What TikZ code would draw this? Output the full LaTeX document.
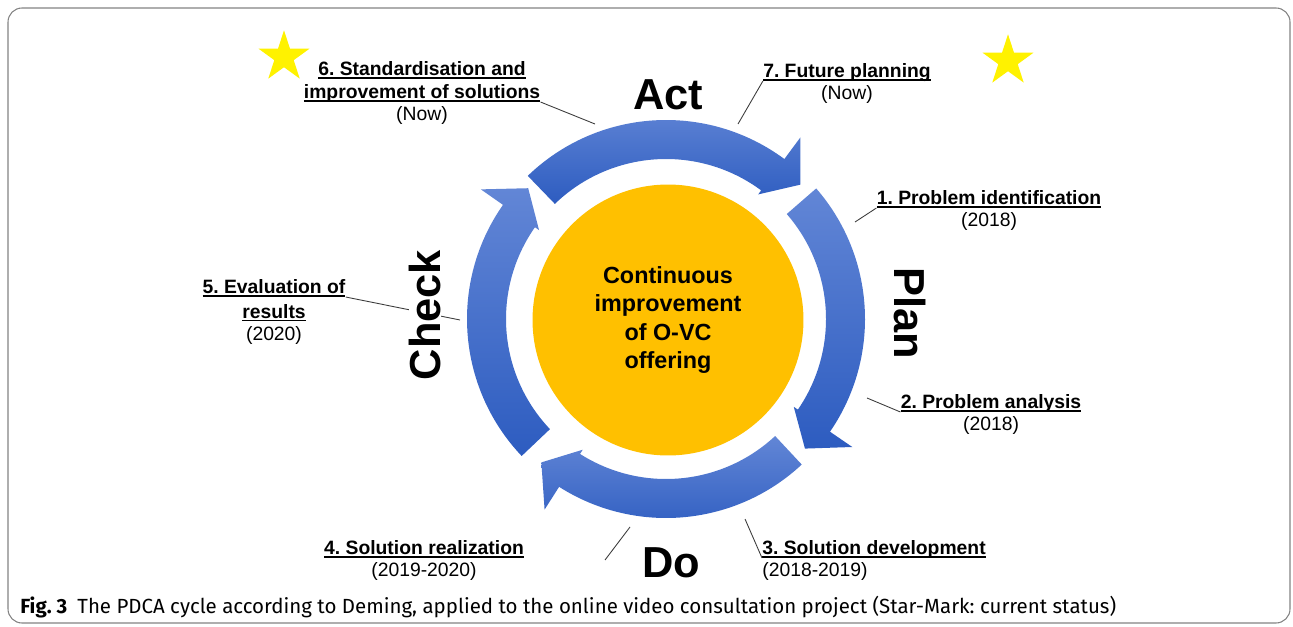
\documentclass[tikz,border=0pt]{standalone}
\usepackage{fontspec}
\setmainfont{Liberation Sans}
\newfontfamily\capfont{Fira Sans}
\usetikzlibrary{calc,positioning,shapes.geometric}
\definecolor{ringlight}{RGB}{98,134,214}
\definecolor{ringdark}{RGB}{45,92,192}
\definecolor{hubgold}{RGB}{255,192,0}
\definecolor{leadgray}{RGB}{60,60,60}
\definecolor{framegray}{RGB}{130,130,130}
\definecolor{staryellow}{RGB}{255,242,0}
\def\ulab#1{\setbox0\hbox{#1}\dp0=0pt\rlap{\rule[-1.7pt]{\wd0}{0.9pt}}\box0}
\def\cyclearrow(#1:#2:#3){\shade[top color=ringlight, bottom color=ringdark] (#1:199) arc[start angle=#1, end angle=#2, radius=199] -- (#2:226) -- (#3:190) -- (#2:155) -- (#2:160) arc[start angle=#2, end angle=#1, radius=160] -- cycle;}
\frenchspacing

\begin{document}
\begin{tikzpicture}[x=0.02cm, y=0.02cm,
		steptitle/.style={font=\fontsize{11}{13}\selectfont\bfseries, align=center, inner sep=0pt},
		stepyear/.style={font=\fontsize{11}{13}\selectfont, align=center, inner sep=0pt},
		phase/.style={font=\fontsize{24.7}{28}\selectfont\bfseries, inner sep=0pt},
		leader/.style={draw=leadgray, line width=0.5pt},
		goldstar/.style={star, star points=5, star point ratio=2.618, fill=staryellow, inner sep=0pt, minimum size=1.07cm}]
			%%%%% START %%%%%
			\useasboundingbox (0,0) rectangle (1293,626);
			\draw[framegray, line width=0.6pt, rounded corners=8pt] (8,3) rectangle (1290,618);
			
			% ring of arrows
			\begin{scope}[shift={(666,307)}]
				\cyclearrow(134:53.5:45)
				\cyclearrow(41:-34.5:-43)
				\cyclearrow(-47:-122.5:-131)
				\cyclearrow(-136.5:-215:-223.5)
			\end{scope}
			
			\node[circle, fill=hubgold, minimum size=5.42cm, inner sep=0pt, align=center,
				font=\fontsize{13.3}{16}\selectfont\bfseries] (hub) at (668,306) {Continuous\\improvement\\of O-VC\\offering};
			
			\node[phase] (act) at (668,531) {Act};
			\node[phase] (do) at (671,63) {Do};
			\node[phase, rotate=-90] (plan) at (910,313) {Plan};
			
			\node[goldstar] (s6) at (284,569) {};
			\node[goldstar] (s7) at (1008,565) {};
			
			% steps
			\node[steptitle, anchor=south] (t6) at (422,524) {\ulab{6. Standardisation and}\\\ulab{improvement of solutions}};
			\node[stepyear, below=2.3pt of t6] (y6) {(Now)};
			\node[steptitle, anchor=south] (t7) at (847,545) {\ulab{7. Future planning}};
			\node[stepyear, below=2.3pt of t7] (y7) {(Now)};
			\node[steptitle, anchor=south] (t1) at (989,418) {\ulab{1. Problem identification}};
			\node[stepyear, below=2.3pt of t1] (y1) {(2018)};
			\node[steptitle, anchor=south] (t5) at (274,329) {\ulab{5. Evaluation of}};
			\node[steptitle, below=4pt of t5] (t5b) {\ulab{results}};
			\node[stepyear, below=2.3pt of t5b] (y5) {(2020)};
			\node[steptitle, anchor=south] (t2) at (991,214) {\ulab{2. Problem analysis}};
			\node[stepyear, below=2.3pt of t2] (y2) {(2018)};
			\node[steptitle, anchor=south] (t4) at (424,68) {\ulab{4. Solution realization}};
			\node[stepyear, below=2.3pt of t4] (y4) {(2019-2020)};
			\node[steptitle, anchor=south west] (t3) at (762,68) {\ulab{3. Solution development}};
			\node[stepyear, below right=2.3pt and 0pt of t3.south west] (y3) {(2018-2019)};
			
			% leaders
			\coordinate (a6) at (595,502);
			\coordinate (a7) at (738,502);
			\coordinate (a1) at (855,404);
			\coordinate (a5) at (460,306);
			\coordinate (a2) at (867,228);
			\coordinate (a4) at (630,99);
			\coordinate (f4) at (605,66);
			\coordinate (a3) at (745,107);
			\draw[leader] (t6.south east) -- (a6);
			\draw[leader] (t7.south west) -- (a7);
			\draw[leader] (t1.south west) -- (a1);
			\draw[leader] (t5.south east) -- (a5);
			\draw[leader] (t2.south west) -- (a2);
			\draw[leader] (f4) -- (a4);
			\draw[leader] (t3.south west) -- (a3);
			
			\node[phase, rotate=90, fill=white] (check) at (425,311) {Check};
			
			\node[anchor=base west, inner sep=0pt, font=\capfont\fontsize{11.65}{13}\selectfont] (caption) at (20,13)
				{\textbf{Fig. 3}\enspace The PDCA cycle according to Deming, applied to the online video consultation project (Star-Mark: current status)};
			%%%%% END %%%%%
\end{tikzpicture}
\end{document}
